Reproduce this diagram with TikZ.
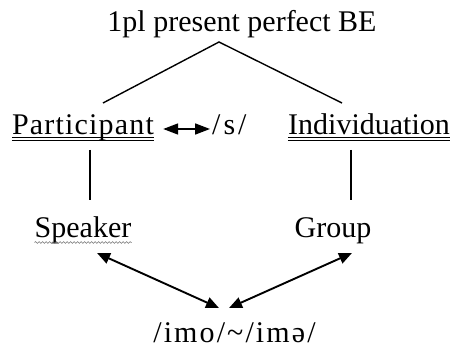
\documentclass[tikz,border=0pt]{standalone}
\usepackage{fontspec}
\setmainfont{Liberation Serif}
\usetikzlibrary{arrows.meta,calc,decorations.pathmorphing}
\begin{document}
\begin{tikzpicture}[x=1pt,y=-1pt,
  lbl/.style={inner sep=0pt,anchor=base,font=\fontsize{30}{36}\selectfont},
  conn/.style={line width=1.4pt},
  bi/.style={line width=1.9pt,{Triangle[length=13pt,width=11pt]}-{Triangle[length=13pt,width=11pt]}},
  bismall/.style={line width=1.7pt,{Triangle[length=15pt,width=11pt]}-{Triangle[length=15pt,width=11pt]}},
  ul/.style={line width=0.9pt},
  squiggle/.style={black!55,line width=0.6pt,decorate,decoration={snake,segment length=3.5pt,amplitude=0.9pt}}]
\useasboundingbox (0,0) rectangle (456,350);
% nodes
\node[lbl] (title) at (242,32) {1pl present perfect BE};
\node[lbl] (part) at (83,135) {\addfontfeatures{LetterSpace=4}Participant};
\node[lbl,anchor=base west] (s) at (212,135) {\addfontfeatures{LetterSpace=10}/s/};
\node[lbl] (indiv) at (369,135) {Individuation};
\node[lbl] (spk) at (83,238) {Speaker};
\node[lbl] (grp) at (333,238) {Group};
\node[lbl] (bot) at (234.5,343) {\addfontfeatures{LetterSpace=7}/imo/\char"007E/imə/};
% tree lines
\coordinate (apex) at ($(title.base)+(-23,10)$);
\coordinate (lend) at ($(part.base)+(20,-32)$);
\coordinate (rend) at ($(indiv.base)+(-27,-32)$);
\draw[conn] (lend) -- (apex) -- (rend);
\draw[conn] ($(part.base)+(7,15)$) -- ($(spk.base)+(7,-37.5)$);
\draw[conn] ($(indiv.base)+(-18,15)$) -- ($(grp.base)+(18,-37.5)$);
% underlines
\draw[ul] ([yshift=-2.7pt]part.base west) -- ([yshift=-2.7pt]part.base east);
\draw[ul] ([yshift=-5.5pt]part.base west) -- ([yshift=-5.5pt]part.base east);
\draw[ul] ([yshift=-2.7pt]indiv.base west) -- ([yshift=-2.7pt]indiv.base east);
\draw[ul] ([yshift=-5.5pt]indiv.base west) -- ([yshift=-5.5pt]indiv.base east);
\draw[squiggle] ($(spk.base west)+(0,4.5)$) -- ($(spk.base east)+(0,4.5)$);
% arrows
\draw[bismall] ($(part.base east)+(9,-6)$) -- ($(s.base west)+(-2,-6)$);
\draw[bi] ($(spk.base)+(14,15)$) -- ($(bot.base)+(-15.5,-35)$);
\draw[bi] ($(grp.base)+(19,15)$) -- ($(bot.base)+(-5.5,-35)$);
\end{tikzpicture}
\end{document}
